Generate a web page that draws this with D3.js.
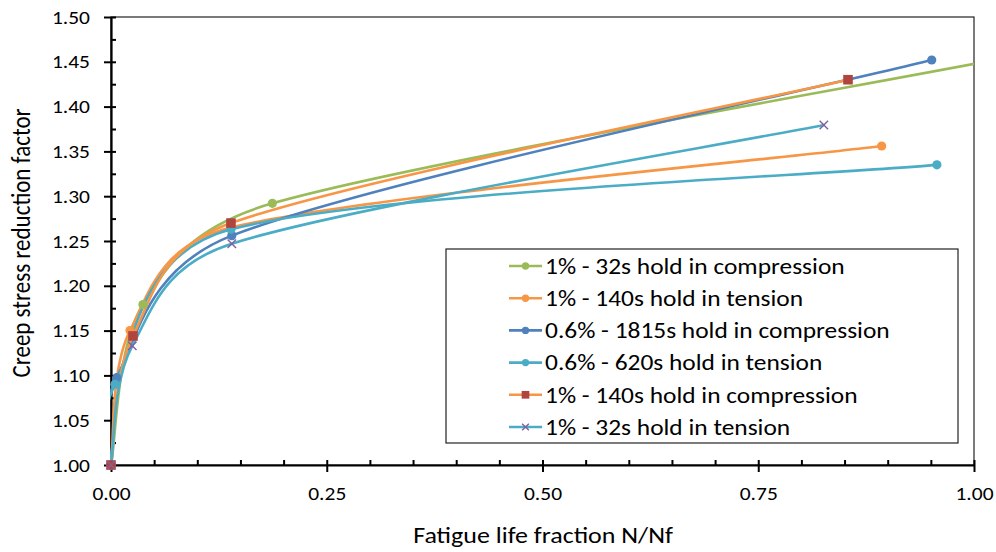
<!DOCTYPE html>
<html>
<head>
<meta charset="utf-8">
<script src="https://cdn.jsdelivr.net/npm/d3@7"></script>
<style>
  html, body { margin: 0; padding: 0; background: #fff; }
  svg { display: block; }
  text { font-family: Calibri, Carlito, "Liberation Sans", Arial, sans-serif; fill: #000; }
</style>
</head>
<body>
<svg id="chart" width="996" height="552"></svg>
<script>
// ---------------- data ----------------
const seriesNames = [
  "1% - 32s hold in compression",
  "1% - 140s hold in tension",
  "0.6% - 1815s hold in compression",
  "0.6% - 620s hold in tension",
  "1% - 140s hold in compression",
  "1% - 32s hold in tension"
];
// fatigue life fraction (x) and creep stress reduction factor (y) for each series
const s1x = [0, 0.037, 0.187, 1.04];
const s1y = [1.000, 1.179, 1.292, 1.455];
const s2x = [0, 0.022, 0.139, 0.893];
const s2y = [1.000, 1.150, 1.265, 1.356];
const s3x = [0, 0.0066, 0.140, 0.951];
const s3y = [1.000, 1.0975, 1.256, 1.452];
const s4x = [0, 0.0046, 0.139, 0.957];
const s4y = [1.000, 1.090, 1.263, 1.335];
const s5x = [0, 0.0255, 0.139, 0.854];
const s5y = [1.000, 1.144, 1.270, 1.430];
const s6x = [0, 0.0247, 0.140, 0.826];
const s6y = [1.000, 1.133, 1.247, 1.3795];

const xMajorTicks = [0, 0.25, 0.5, 0.75, 1.0];
const xMinorTicks = [0.05, 0.10, 0.15, 0.20, 0.30, 0.35, 0.40, 0.45, 0.55, 0.60, 0.65, 0.70, 0.80, 0.85, 0.90, 0.95];
const yMajorTicks = [1.00, 1.05, 1.10, 1.15, 1.20, 1.25, 1.30, 1.35, 1.40, 1.45, 1.50];
const yMinorTicks = [1.025, 1.075, 1.125, 1.175, 1.225, 1.275, 1.325, 1.375, 1.425, 1.475];

const xTitle = "Fatigue life fraction N/Nf";
const yTitle = "Creep stress reduction factor";

// ---------------- styles ----------------
const styles = [
  { line: "#9BBB59", marker: "circle", mfill: "#9BBB59" },
  { line: "#F79646", marker: "circle", mfill: "#F79646" },
  { line: "#4F81BD", marker: "circle", mfill: "#4F81BD" },
  { line: "#4BACC6", marker: "circle", mfill: "#4BACC6" },
  { line: "#F79646", marker: "square", mfill: "#B0443F" },
  { line: "#4BACC6", marker: "cross",  mfill: "#7E62A0" }
];
const xs = [s1x, s2x, s3x, s4x, s5x, s6x];
const ys = [s1y, s2y, s3y, s4y, s5y, s6y];
const series = seriesNames.map((name, i) => ({
  name, style: styles[i],
  points: xs[i].map((x, j) => ({ x, y: ys[i][j] }))
}));

// ---------------- spreadsheet-style smoothed curve (Bezier, tension 1/6, capped handles) ----------------
function SmoothCurve(context) { this._context = context; }
SmoothCurve.prototype = {
  areaStart() {}, areaEnd() {},
  lineStart() { this._pts = []; },
  point(px, py) { this._pts.push([+px, +py]); },
  lineEnd() {
    const p = this._pts, n = p.length, c = this._context;
    if (!n) return;
    c.moveTo(p[0][0], p[0][1]);
    const dist = (a, b) => Math.hypot(a[0] - b[0], a[1] - b[1]);
    for (let i = 0; i < n - 1; i++) {
      const p0 = p[Math.max(i - 1, 0)], p1 = p[i], p2 = p[i + 1], p3 = p[Math.min(i + 2, n - 1)];
      const d12 = dist(p1, p2), d02 = dist(p0, p2), d13 = dist(p1, p3);
      let f0 = 1 / 6, f1 = 1 / 6;
      if (d02 / 6 >= d12 / 2) f0 = d02 > 0 ? (d12 / 2) / d02 : 0;
      if (d13 / 6 >= d12 / 2) f1 = d13 > 0 ? (d12 / 2) / d13 : 0;
      const c1 = [p1[0] + (p2[0] - p0[0]) * f0, p1[1] + (p2[1] - p0[1]) * f0];
      const c2 = [p2[0] - (p3[0] - p1[0]) * f1, p2[1] - (p3[1] - p1[1]) * f1];
      c.bezierCurveTo(c1[0], c1[1], c2[0], c2[1], p2[0], p2[1]);
    }
  }
};
const curveSmooth = ctx => new SmoothCurve(ctx);

// ---------------- layout ----------------
const STRETCH = 1.13; // horizontal glyph stretch seen in the reference
const plot = { left: 111, right: 974, top: 17, bottom: 465 };

const svg = d3.select("#chart");
const x = d3.scaleLinear().domain([0, 1]).range([plot.left, plot.right]);
const y = d3.scaleLinear().domain([1.0, 1.5]).range([plot.bottom, plot.top]);

function stretchText(sel) {
  sel.each(function () {
    const t = d3.select(this);
    const tx = +t.attr("x") || 0, ty = +t.attr("y") || 0;
    t.attr("x", 0).attr("y", 0).attr("transform", `translate(${tx},${ty}) scale(${STRETCH},1)`);
  });
}

// plot area border
svg.append("rect")
  .attr("x", plot.left).attr("y", plot.top)
  .attr("width", plot.right - plot.left).attr("height", plot.bottom - plot.top)
  .attr("fill", "none").attr("stroke", "#222").attr("stroke-width", 1.2);

svg.append("defs").append("clipPath").attr("id", "clip")
  .append("rect")
  .attr("x", plot.left - 1).attr("y", plot.top - 20)
  .attr("width", plot.right - plot.left + 1).attr("height", plot.bottom - plot.top + 40);

// axes
const fmt = d3.format(".2f");
const xAxisMajor = d3.axisBottom(x).tickValues(xMajorTicks).tickFormat(fmt).tickSizeInner(7).tickSizeOuter(0).tickPadding(14);
const gx = svg.append("g").attr("transform", `translate(0,${plot.bottom})`).call(xAxisMajor);
gx.select(".domain").attr("stroke", "#000").attr("stroke-width", 2.2);
gx.selectAll(".tick line").attr("stroke", "#000").attr("stroke-width", 2).attr("y1", -5);
gx.selectAll(".tick text").attr("font-size", 19).attr("font-family", null).call(stretchText);

const xAxisMinor = d3.axisBottom(x).tickValues(xMinorTicks).tickFormat("").tickSizeInner(-5).tickSizeOuter(0);
const gxm = svg.append("g").attr("transform", `translate(0,${plot.bottom})`).call(xAxisMinor);
gxm.select(".domain").remove();
gxm.selectAll(".tick line").attr("stroke", "#000").attr("stroke-width", 2);

const yAxisMajor = d3.axisLeft(y).tickValues(yMajorTicks).tickFormat(fmt).tickSizeInner(7).tickSizeOuter(0).tickPadding(14);
const gy = svg.append("g").attr("transform", `translate(${plot.left},0)`).call(yAxisMajor);
gy.select(".domain").attr("stroke", "#000").attr("stroke-width", 2.2);
gy.selectAll(".tick line").attr("stroke", "#000").attr("stroke-width", 2).attr("x1", 5);
gy.selectAll(".tick text").attr("font-size", 19).attr("font-family", null).call(stretchText);

const yAxisMinor = d3.axisLeft(y).tickValues(yMinorTicks).tickFormat("").tickSizeInner(-5).tickSizeOuter(0);
const gym = svg.append("g").attr("transform", `translate(${plot.left},0)`).call(yAxisMinor);
gym.select(".domain").remove();
gym.selectAll(".tick line").attr("stroke", "#000").attr("stroke-width", 2);

// titles
svg.append("text").attr("transform", `translate(543,543) scale(${STRETCH},1)`).attr("text-anchor", "middle")
  .attr("font-size", 23).text(xTitle);
svg.append("text").attr("transform", `translate(30,243) scale(${STRETCH},1) rotate(-90)`).attr("text-anchor", "middle")
  .attr("font-size", 23).text(yTitle);

// lines
const line = d3.line().x(d => x(d.x)).y(d => y(d.y)).curve(curveSmooth);
const gLines = svg.append("g").attr("clip-path", "url(#clip)");

function drawMarker(g, type, fill, cx, cy, scale) {
  const s = scale || 1;
  if (type === "circle") {
    g.append("circle").attr("cx", cx).attr("cy", cy).attr("r", 4.6 * s).attr("fill", fill);
  } else if (type === "square") {
    g.append("rect").attr("x", cx - 4.8 * s).attr("y", cy - 4.8 * s)
      .attr("width", 9.6 * s).attr("height", 9.6 * s).attr("fill", fill);
  } else if (type === "cross") {
    const r = 4.2 * s;
    g.append("path").attr("d", `M${cx - r},${cy - r}L${cx + r},${cy + r}M${cx - r},${cy + r}L${cx + r},${cy - r}`)
      .attr("stroke", fill).attr("stroke-width", 1.4).attr("fill", "none");
  }
}

series.forEach(s => {
  gLines.append("path").datum(s.points)
    .attr("d", line)
    .attr("fill", "none").attr("stroke", s.style.line).attr("stroke-width", 2.6)
    .attr("stroke-linecap", "round").attr("stroke-linejoin", "round");
  const gm = svg.append("g");
  s.points.filter(p => p.x >= 0 && p.x <= 1).forEach(p => {
    drawMarker(gm, s.style.marker, s.style.mfill, x(p.x), y(p.y), 1);
  });
});

// legend
const legend = { x: 446, y: 249, w: 512, h: 194 };
svg.append("rect").attr("x", legend.x).attr("y", legend.y).attr("width", legend.w).attr("height", legend.h)
  .attr("fill", "#fff").attr("stroke", "#222").attr("stroke-width", 1.2);
const rowY = d3.scaleLinear().domain([0, seriesNames.length - 1]).range([266, 427]);
series.forEach((s, i) => {
  const g = svg.append("g");
  const cy = rowY(i);
  g.append("line").attr("x1", 509).attr("x2", 542).attr("y1", cy).attr("y2", cy)
    .attr("stroke", s.style.line).attr("stroke-width", 2.6);
  drawMarker(g, s.style.marker, s.style.mfill, 525.5, cy, 0.8);
  g.append("text").attr("transform", `translate(545,${cy}) scale(${STRETCH},1)`).attr("dy", "0.35em")
    .attr("font-size", 22.5).text(s.name);
});
</script>
</body>
</html>
